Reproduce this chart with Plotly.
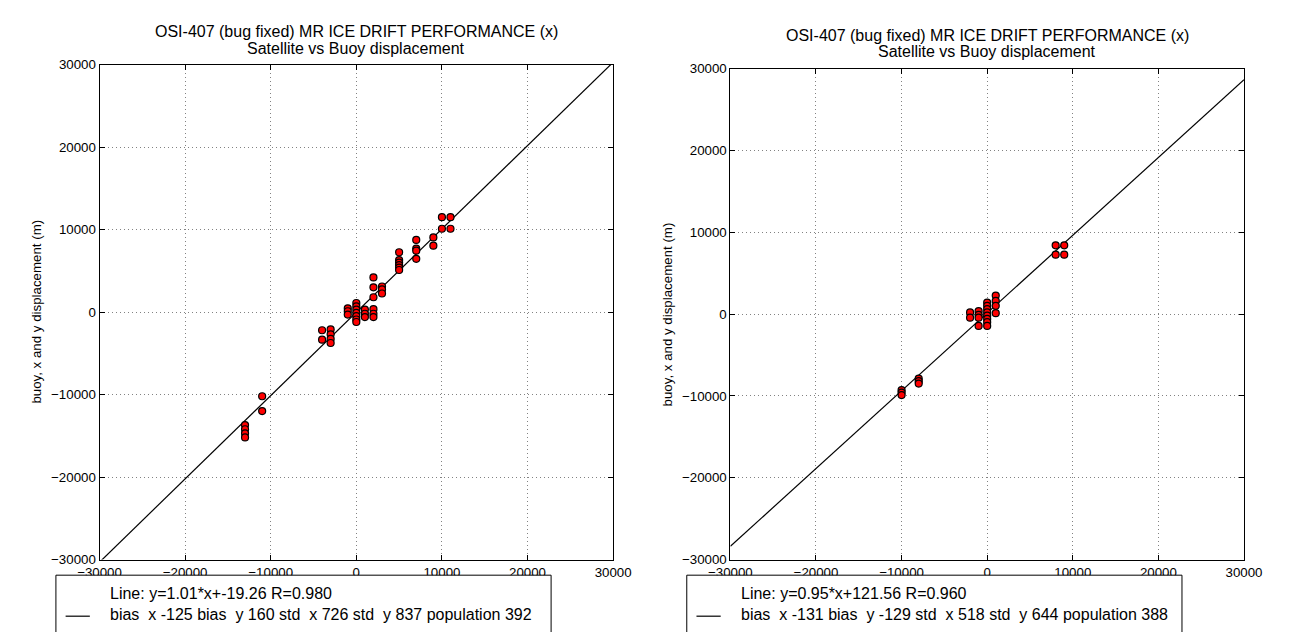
import plotly.graph_objects as go

W, H = 1293, 632
FONT = "Liberation Sans"

# ---------------- data ----------------
tick_vals = [-30000, -20000, -10000, 0, 10000, 20000, 30000]
tick_text = ["\u221230000", "\u221220000", "\u221210000", "0", "10000", "20000", "30000"]

left_sat_x = [-13000, -13000, -13000, -13000, -11000, -11000,
              -4000, -4000, -3000, -3000, -3000, -3000,
              -1000, -1000, -1000,
              0, 0, 0, 0, 0, 0, 0,
              1000, 1000, 1000,
              2000, 2000, 2000, 2000, 2000, 2000,
              3000, 3000, 3000,
              5000, 5000, 5000, 5000, 5000, 5000,
              7000, 7000, 7000, 7000,
              9000, 9000, 10000, 10000, 11000, 11000]
left_buoy_y = [-13700, -14200, -14700, -15200, -10200, -12000,
               -2200, -3350, -2100, -2700, -3250, -3750,
               450, 100, -300,
               1100, 700, 300, -100, -500, -900, -1200,
               300, -200, -600,
               4200, 3000, 1800, 350, -200, -600,
               3100, 2750, 2250,
               7250, 6300, 6000, 5700, 5400, 5100,
               8750, 7700, 7450, 6450,
               9050, 8050, 11500, 10100, 11500, 10100]

right_sat_x = [-10000, -10000, -10000, -8000, -8000, -8000,
               -2000, -2000, -1000, -1000, -1000, -1000,
               0, 0, 0, 0, 0, 0, 0, 0,
               1000, 1000, 1000, 1000,
               8000, 8000, 9000, 9000]
right_buoy_y = [-9300, -9600, -9900, -7900, -8200, -8500,
                200, -450, 350, -100, -450, -1450,
                1400, 1000, 600, 200, -200, -600, -1000, -1450,
                2250, 1600, 1000, 100,
                8400, 7250, 8400, 7250]

left_fit = {"slope": 1.01, "intercept": -19.26}
right_fit = {"slope": 0.95, "intercept": 121.56}
fit_x = [-30000, 30000]

title_line1 = "OSI-407 (bug fixed) MR ICE DRIFT PERFORMANCE (x)"
title_line2 = "Satellite vs Buoy displacement"
y_title = "buoy, x and y displacement (m)"
left_legend = ["Line: y=1.01*x+-19.26 R=0.980",
               "bias  x -125 bias  y 160 std  x 726 std  y 837 population 392"]
right_legend = ["Line: y=0.95*x+121.56 R=0.960",
                "bias  x -131 bias  y -129 std  x 518 std  y 644 population 388"]

# ---------------- figure ----------------
def px(x):
    return x / W

def py(y):
    return 1 - y / H

fig = go.Figure()

panels = [
    dict(xs=left_sat_x, ys=left_buoy_y, fit=left_fit, xa="x", ya="y",
         box=(80, 610, 59, 566), legend=left_legend),
    dict(xs=right_sat_x, ys=right_buoy_y, fit=right_fit, xa="x2", ya="y2",
         box=(731, 1261, 63, 566), legend=right_legend),
]

axis_common = dict(
    range=[-30000, 30000], tickvals=tick_vals, ticktext=tick_text,
    showgrid=True, gridcolor="rgb(130,130,130)", griddash="1px,3px", gridwidth=1,
    showline=True, linecolor="black", linewidth=1, mirror="ticks",
    ticks="inside", ticklen=5, tickcolor="black", zeroline=False,
    tickfont=dict(family=FONT, size=13.3, color="black"), fixedrange=True,
)

annotations = []
shapes = []
for i, p in enumerate(panels):
    fy = [p["fit"]["slope"] * v + p["fit"]["intercept"] for v in fit_x]
    fig.add_trace(go.Scatter(x=fit_x, y=fy, mode="lines",
                             line=dict(color="black", width=1.2),
                             xaxis=p["xa"], yaxis=p["ya"], showlegend=False))
    fig.add_trace(go.Scatter(x=p["xs"], y=p["ys"], mode="markers",
                             marker=dict(color="red", size=7,
                                         line=dict(color="black", width=1.2)),
                             xaxis=p["xa"], yaxis=p["ya"], showlegend=False))
    x0, x1, y0, y1 = p["box"]
    sfx = "" if i == 0 else "2"
    fig.update_layout(**{
        "xaxis" + sfx: dict(axis_common, domain=[px(x0), px(x1)],
                            anchor="y" + sfx),
        "yaxis" + sfx: dict(axis_common, domain=[py(y1), py(y0)],
                            anchor="x" + sfx),
    })
    cx = (x0 + x1) / 2
    annotations += [
        dict(x=px(cx), y=py(y0 - 34), xref="paper", yref="paper",
             text=title_line1, showarrow=False, xanchor="center", yanchor="middle",
             font=dict(family=FONT, size=16, color="black")),
        dict(x=px(cx), y=py(y0 - 17), xref="paper", yref="paper",
             text=title_line2, showarrow=False, xanchor="center", yanchor="middle",
             font=dict(family=FONT, size=16, color="black")),
        dict(x=px(x0 - 65), y=py((y0 + y1) / 2), xref="paper", yref="paper",
             text=y_title, showarrow=False, textangle=-90,
             xanchor="center", yanchor="middle",
             font=dict(family=FONT, size=13.3, color="black")),
    ]
    lx0 = x0 - 45
    lx1 = lx0 + 511
    shapes += [
        dict(type="rect", xref="paper", yref="paper", x0=px(lx0), x1=px(lx1),
             y0=py(700), y1=py(582), line=dict(color="black", width=1),
             fillcolor="white", layer="above"),
        dict(type="line", xref="paper", yref="paper", x0=px(lx0 + 10),
             x1=px(lx0 + 35), y0=py(624), y1=py(624),
             line=dict(color="black", width=1.2), layer="above"),
    ]
    for j, line in enumerate(p["legend"]):
        annotations.append(dict(
            x=px(lx0 + 54), y=py(601 + 21 * j), xref="paper", yref="paper",
            text=line.replace("  ", "\u00a0\u00a0"), showarrow=False,
            xanchor="left", yanchor="middle",
            font=dict(family=FONT, size=16, color="black")))

fig.update_layout(
    width=W, height=H, margin=dict(l=0, r=0, t=0, b=0),
    paper_bgcolor="white", plot_bgcolor="white",
    showlegend=False, annotations=annotations, shapes=shapes,
)

fig.write_html("out.html", config={"displayModeBar": False})
